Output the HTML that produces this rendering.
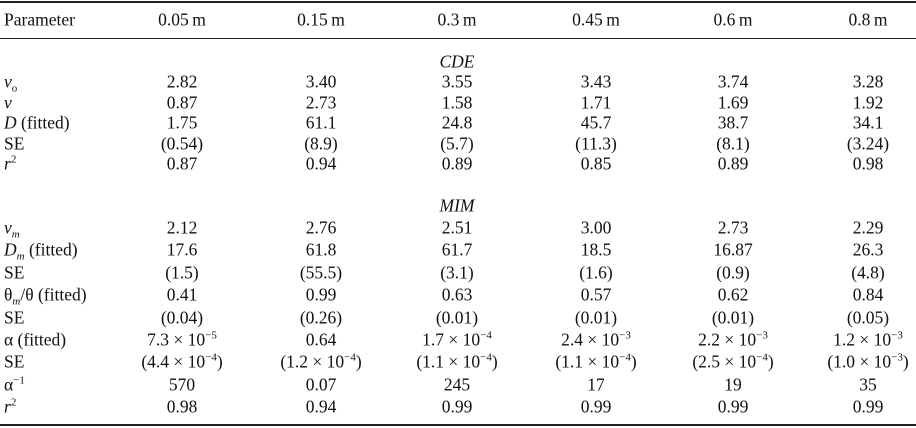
<!DOCTYPE html>
<html><head><meta charset="utf-8"><style>
body{margin:0;background:#fff;}
#t{position:relative;width:916px;height:428px;font-family:"Liberation Serif",serif;font-size:17.5px;color:#111;}
.c{position:absolute;white-space:nowrap;transform:translate(-50%,-50%);line-height:1;}
.l{position:absolute;white-space:nowrap;transform:translateY(-50%);line-height:1;left:4px;}
.rule{position:absolute;left:0;width:916px;background:#222;}
i{font-style:italic;}
sup{font-size:11px;vertical-align:7px;line-height:0;}
sub{font-size:11px;vertical-align:-4px;line-height:0;}
</style></head><body>
<div id="t">
<div class="rule" style="top:1px;height:1.5px"></div>
<div class="rule" style="top:38px;height:1.3px"></div>
<div class="rule" style="top:424px;height:2px"></div>
</div>
<script>
const cols=[182,321,457,596,733,868];
const header=["0.05\u2009m","0.15\u2009m","0.3\u2009m","0.45\u2009m","0.6\u2009m","0.8\u2009m"];
const rows=[
 [82,"<i>v</i><sub>o</sub>",["2.82","3.40","3.55","3.43","3.74","3.28"]],
 [102.5,"<i>v</i>",["0.87","2.73","1.58","1.71","1.69","1.92"]],
 [123,"<i>D</i> (fitted)",["1.75","61.1","24.8","45.7","38.7","34.1"]],
 [143.5,"SE",["(0.54)","(8.9)","(5.7)","(11.3)","(8.1)","(3.24)"]],
 [164,"<i>r</i><sup>2</sup>",["0.87","0.94","0.89","0.85","0.89","0.98"]],
 [228,"<i>v<sub>m</sub></i>",["2.12","2.76","2.51","3.00","2.73","2.29"]],
 [250.4,"<i>D<sub>m</sub></i> (fitted)",["17.6","61.8","61.7","18.5","16.87","26.3"]],
 [272.8,"SE",["(1.5)","(55.5)","(3.1)","(1.6)","(0.9)","(4.8)"]],
 [295.2,"θ<sub><i>m</i></sub>/θ (fitted)",["0.41","0.99","0.63","0.57","0.62","0.84"]],
 [317.6,"SE",["(0.04)","(0.26)","(0.01)","(0.01)","(0.01)","(0.05)"]],
 [340,"α (fitted)",["7.3 × 10<sup>−5</sup>","0.64","1.7 × 10<sup>−4</sup>","2.4 × 10<sup>−3</sup>","2.2 × 10<sup>−3</sup>","1.2 × 10<sup>−3</sup>"]],
 [362.4,"SE",["(4.4 × 10<sup>−4</sup>)","(1.2 × 10<sup>−4</sup>)","(1.1 × 10<sup>−4</sup>)","(1.1 × 10<sup>−4</sup>)","(2.5 × 10<sup>−4</sup>)","(1.0 × 10<sup>−3</sup>)"]],
 [384.8,"α<sup>−1</sup>",["570","0.07","245","17","19","35"]],
 [407,"<i>r</i><sup>2</sup>",["0.98","0.94","0.99","0.99","0.99","0.99"]]
];
const t=document.getElementById('t');
function add(cls,x,y,html,name){
 const d=document.createElement('div');
 d.className=cls;
 if(x!==null)d.style.left=x+'px';
 d.style.top=y+'px';
 d.innerHTML=html;
 
 
 t.appendChild(d);
}
add('l',null,20,'Parameter','header-parameter');
header.forEach((h,i)=>add('c',cols[i],20,h,'header-depth'));
add('c',457,62,'<i>CDE</i>','section-cde');
add('c',457,206,'<i>MIM</i>','section-mim');
rows.forEach(r=>{
 add('l',null,r[0],r[1],'row-label');
 r[2].forEach((v,i)=>add('c',cols[i],r[0],v,'cell-value'));
});
</script>
</body></html>
